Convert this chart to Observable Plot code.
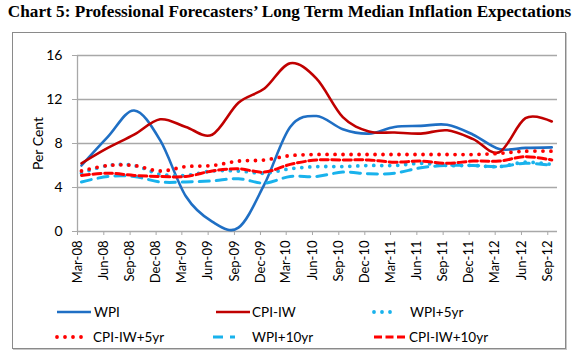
<!DOCTYPE html>
<html><head><meta charset="utf-8">
<script src="https://cdn.jsdelivr.net/npm/d3@7"></script>
<script src="https://cdn.jsdelivr.net/npm/@observablehq/plot@0.6"></script>
<style>
body{margin:0;width:579px;height:357px;position:relative;background:#fff;overflow:hidden;font-family:Lato,"Open Sans",sans-serif}
#title{position:absolute;left:0;top:2px;width:579px;text-align:center;font:bold 17.2px "Liberation Serif","Times New Roman",serif;white-space:nowrap;line-height:20px;color:#000}
#box{position:absolute;left:12px;top:32px;width:552px;height:315px;border:1px solid #8a8a8a;box-shadow:1px 1px 0 #c8c8c8}
#chart{position:absolute;left:0;top:0}
.leg{position:absolute;font-size:13.5px;color:#000;line-height:16px;white-space:nowrap}
.sw{position:absolute}
</style></head>
<body>
<div id="title">Chart 5: Professional Forecasters’ Long Term Median Inflation Expectations</div>
<div id="box"><div id="chart"></div></div>
<script>
// ---- data ----
const quarterLabels = ["Mar-08","Jun-08","Sep-08","Dec-08","Mar-09","Jun-09","Sep-09","Dec-09","Mar-10","Jun-10","Sep-10","Dec-10","Mar-11","Jun-11","Sep-11","Dec-11","Mar-12","Jun-12","Sep-12"];
const wpi      = [6.0, 8.6, 11.0, 8.3, 3.2, 0.9, 0.35, 4.3, 9.5, 10.5, 9.3, 8.9, 9.5, 9.6, 9.7, 8.8, 7.5, 7.6, 7.65];
const cpiIw    = [6.2, 7.6, 8.8, 10.2, 9.5, 8.8, 11.7, 13.0, 15.3, 13.9, 10.4, 9.1, 9.0, 8.9, 9.2, 8.4, 7.2, 10.3, 10.0];
const wpi5yr   = [5.3, 6.0, 6.0, 5.2, 5.1, 5.5, 5.5, 5.3, 5.7, 5.9, 5.9, 6.0, 6.0, 6.2, 6.0, 6.0, 5.9, 6.3, 6.1];
const cpiIw5yr = [5.5, 6.0, 6.0, 5.5, 5.9, 6.0, 6.4, 6.5, 6.9, 7.0, 7.0, 7.0, 7.0, 7.0, 7.0, 7.0, 7.1, 7.3, 7.3];
const wpi10yr  = [4.5, 5.0, 5.0, 4.5, 4.5, 4.6, 4.8, 4.4, 5.0, 5.0, 5.4, 5.25, 5.3, 5.8, 6.0, 6.0, 5.9, 6.2, 6.0];
const cpiIw10yr= [5.1, 5.3, 5.1, 5.0, 5.0, 5.5, 5.7, 5.4, 6.1, 6.5, 6.5, 6.5, 6.3, 6.4, 6.2, 6.4, 6.4, 6.8, 6.5];
const seriesNames = ["WPI","CPI-IW","WPI+5yr","CPI-IW+5yr","WPI+10yr","CPI-IW+10yr"];
const yTicks = [0, 4, 8, 12, 16];

// ---- styles ----
const styles = {
  "WPI":         {stroke:"#1f6fc4", strokeWidth:2.6},
  "CPI-IW":      {stroke:"#c00000", strokeWidth:2.6},
  "WPI+5yr":     {stroke:"#19b2ec", strokeWidth:3.8, strokeDasharray:"0 8", strokeLinecap:"round"},
  "CPI-IW+5yr":  {stroke:"#ff0000", strokeWidth:3.8, strokeDasharray:"0 8", strokeLinecap:"round"},
  "WPI+10yr":    {stroke:"#19b2ec", strokeWidth:3, strokeDasharray:"10 7"},
  "CPI-IW+10yr": {stroke:"#ff0000", strokeWidth:3, strokeDasharray:"8 3.5"}
};
const seriesValues = [wpi, cpiIw, wpi5yr, cpiIw5yr, wpi10yr, cpiIw10yr];

const parse = d3.utcParse("%b-%y");
const tickDates = quarterLabels.map(parse);
const dataDates = tickDates.map(d => d3.utcDay.offset(d, 14));
const xDomain = [tickDates[0], d3.utcDay.offset(tickDates[tickDates.length - 1], 34)];

const lineMarks = seriesNames.map((name, k) =>
  Plot.line(seriesValues[k].map((v, i) => ({date: dataDates[i], value: v})),
    {x: "date", y: "value", curve: "cardinal", ...styles[name]})
);

const chart = Plot.plot({
  width: 552, height: 262,
  marginLeft: 64, marginRight: 8, marginTop: 22, marginBottom: 64,
  style: {background: "transparent", fontFamily: "Lato, 'Open Sans', sans-serif", color: "#000"},
  x: {type: "utc", domain: xDomain},
  y: {domain: [0, 16]},
  marks: [
    Plot.ruleY(yTicks.filter(d => d > 0), {stroke: "#a8a8a8", strokeWidth: 1.3}),
    Plot.ruleY([0], {stroke: "#a8a8a8", strokeWidth: 1.3}),
    Plot.ruleX([xDomain[0]], {stroke: "#a8a8a8", strokeWidth: 1.3}),
    Plot.axisY({ticks: yTicks, tickSize: 5, tickPadding: 10, stroke: "#a8a8a8", fontSize: 14,
      label: "Per Cent", labelAnchor: "center", labelOffset: 44, labelArrow: "none"}),
    Plot.axisX({ticks: tickDates, tickFormat: d3.utcFormat("%b-%y"), tickRotate: -90,
      tickSize: 4, tickPadding: 5, stroke: "#a8a8a8", fontSize: 13, label: null}),
    ...lineMarks
  ]
});
document.getElementById("chart").appendChild(chart);

// ---- legend (HTML) ----
const legendPos = [
  {name:"WPI",         sx:57,  sw:34, tx:94,  y:312},
  {name:"CPI-IW",      sx:216, sw:34, tx:252, y:312},
  {name:"WPI+5yr",     sx:372, sw:26, tx:410, y:312},
  {name:"CPI-IW+5yr",  sx:55,  sw:34, tx:93,  y:337},
  {name:"WPI+10yr",    sx:213, sw:22, tx:252, y:337},
  {name:"CPI-IW+10yr", sx:374, sw:34, tx:409, y:337}
];
for (const p of legendPos) {
  const st = styles[p.name];
  const svg = d3.select("body").append("svg").attr("class", "sw")
    .attr("width", p.sw + 4).attr("height", 10)
    .style("left", (p.sx - 2) + "px").style("top", (p.y - 5) + "px");
  svg.append("line").attr("x1", 2 + (st.strokeLinecap ? 2 : 0)).attr("x2", p.sw + 2).attr("y1", 5).attr("y2", 5)
    .attr("stroke", st.stroke).attr("stroke-width", st.strokeWidth)
    .attr("stroke-dasharray", st.strokeDasharray || null)
    .attr("stroke-linecap", st.strokeLinecap || "butt");
  d3.select("body").append("div").attr("class", "leg")
    .style("left", p.tx + "px").style("top", (p.y - 8) + "px").text(p.name);
}
</script>
</body></html>
